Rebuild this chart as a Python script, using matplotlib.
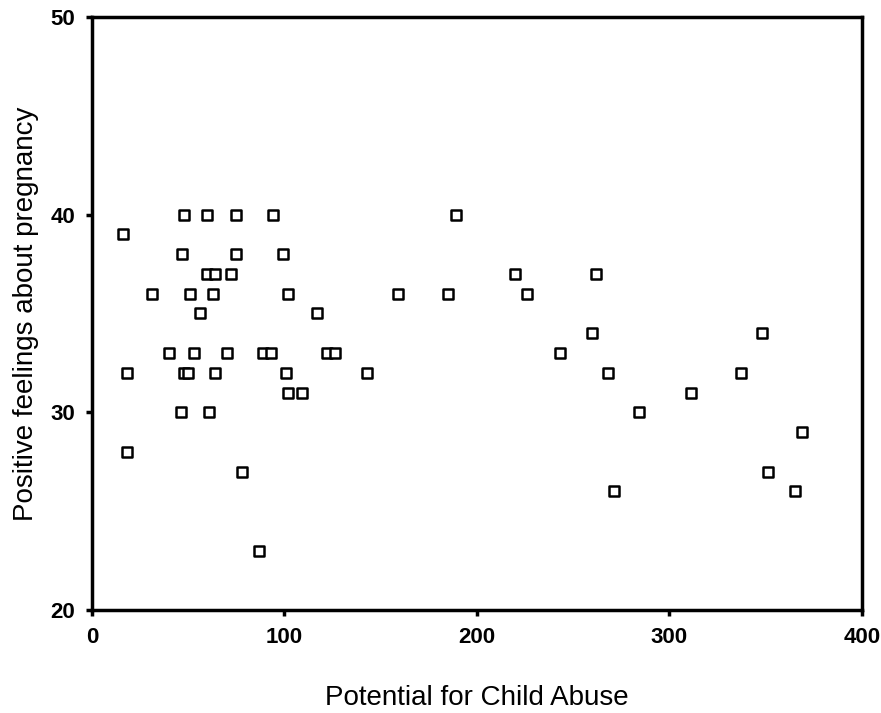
import matplotlib
matplotlib.use('Agg')
import matplotlib.pyplot as plt

plt.rcParams['font.family'] = ['Liberation Sans', 'DejaVu Sans']

# Potential for Child Abuse vs positive feelings about pregnancy
abuse_potential = [16, 18, 18, 31, 40, 46, 47, 48, 48, 50,
                   51, 53, 56, 60, 60, 61, 63, 64, 64, 70,
                   72, 75, 75, 78, 87, 89, 93, 94, 99, 101,
                   102, 102, 109, 117, 122, 126, 143, 159, 185, 189,
                   220, 226, 243, 260, 262, 268, 271, 284, 311, 337,
                   348, 351, 365, 369]
positive_feelings = [39, 32, 28, 36, 33, 30, 38, 40, 32, 32,
                     36, 33, 35, 40, 37, 30, 36, 37, 32, 33,
                     37, 40, 38, 27, 23, 33, 33, 40, 38, 32,
                     36, 31, 31, 35, 33, 33, 32, 36, 36, 40,
                     37, 36, 33, 34, 37, 32, 26, 30, 31, 32,
                     34, 27, 26, 29]

x_ticks = [0, 100, 200, 300, 400]
y_ticks = [20, 30, 40, 50]

fig = plt.figure(figsize=(8.81, 7.13), dpi=100)
ax = fig.add_axes([0.1044, 0.1445, 0.874, 0.8317])

ax.scatter(abuse_potential, positive_feelings, marker='s', s=45,
           facecolors='white', edgecolors='black', linewidths=1.8, zorder=3)

ax.set_xlim(0, 400)
ax.set_ylim(20, 50)
ax.set_xticks(x_ticks)
ax.set_yticks(y_ticks)
ax.tick_params(direction='out', length=4, width=2.5, labelsize=16, pad=8)
for lbl in ax.get_xticklabels() + ax.get_yticklabels():
    lbl.set_fontweight('bold')

for side in ax.spines.values():
    side.set_linewidth(2.5)

ax.set_xlabel('Potential for Child Abuse', fontsize=20, labelpad=27)
ax.set_ylabel('Positive feelings about pregnancy', fontsize=20, labelpad=8)

plt.savefig('out.png', dpi=100)
plt.close()
